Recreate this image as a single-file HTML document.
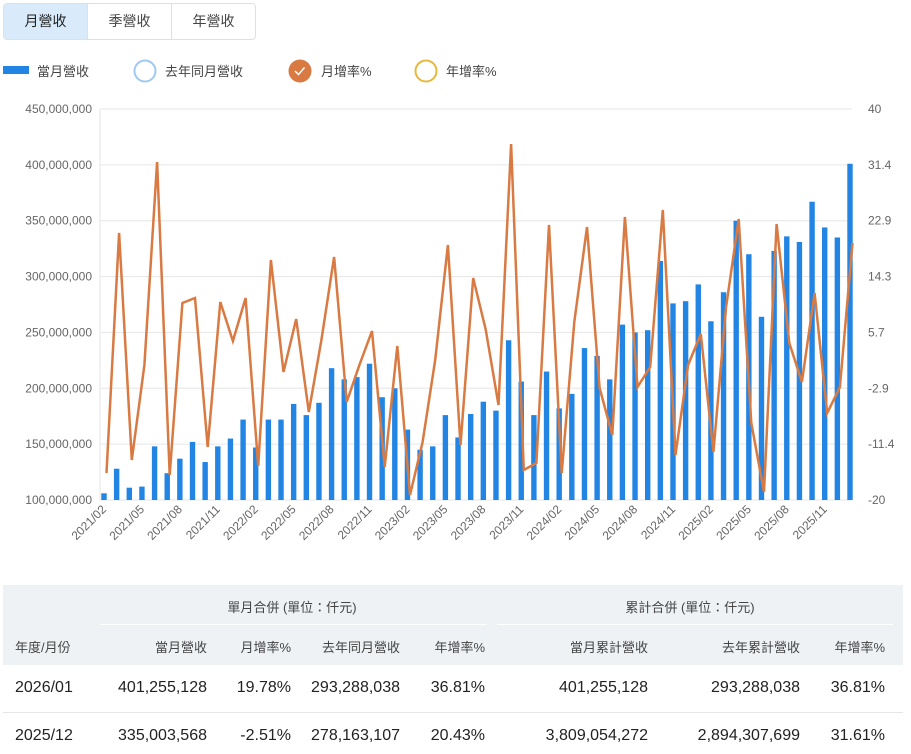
<!DOCTYPE html>
<html><head><meta charset="utf-8">
<style>
body{margin:0;width:911px;height:754px;background:#fff;font-family:"Liberation Sans","Noto Sans CJK TC",sans-serif;overflow:hidden;position:relative;color:#333}
.tabs{position:absolute;left:3px;top:3px;width:251px;height:35px;border:1px solid #dde1e6;border-radius:4px;display:flex;overflow:hidden}
.tabs div{flex:1;text-align:center;line-height:35px;font-size:14px;color:#444;border-left:1px solid #dde1e6}
.tabs div:first-child{border-left:none;background:#d9ebfb;color:#222}
.t{position:absolute;white-space:nowrap}
</style></head><body>
<div class="tabs"><div>月營收</div><div>季營收</div><div>年營收</div></div>
<svg width="911" height="580" style="position:absolute;left:0;top:0" font-family="Liberation Sans,Noto Sans CJK TC,sans-serif">
<rect x="3" y="66" width="26" height="8" fill="#2285e4"/>
<text x="37" y="76" font-size="13" fill="#444">當月營收</text>
<circle cx="145" cy="71" r="10.5" fill="none" stroke="#9ec9f2" stroke-width="2"/>
<text x="165" y="76" font-size="13" fill="#444">去年同月營收</text>
<circle cx="300" cy="71" r="11.5" fill="#d97a43"/>
<path d="M295 71 l3.5 3.5 l6 -7" stroke="#fff" stroke-width="1.5" fill="none"/>
<text x="321" y="76" font-size="13" fill="#444">月增率%</text>
<circle cx="426" cy="71" r="10.5" fill="none" stroke="#e6b83c" stroke-width="2"/>
<text x="446" y="76" font-size="13" fill="#444">年增率%</text>
<g id="grid"></g>
<g id="bars"></g>
<polyline id="ln" fill="none" stroke="#d97a43" stroke-width="2.5" stroke-linejoin="miter"/>
<g id="lbl" font-size="12" fill="#666"></g>
</svg>
<div style="position:absolute;left:3px;top:585px;width:900px;height:80px;background:#eff2f5"></div>
<div style="position:absolute;left:100px;top:624px;width:387px;height:1px;background:#fff"></div>
<div style="position:absolute;left:497px;top:624px;width:396px;height:1px;background:#fff"></div>
<div style="position:absolute;left:3px;top:712px;width:900px;height:1px;background:#e3e6ea"></div>
<div id="tbl"></div>
<script>
var NS="http://www.w3.org/2000/svg";
function el(p,t,a,txt){var e=document.createElementNS(NS,t);for(var k in a)e.setAttribute(k,a[k]);if(txt!=null)e.textContent=txt;document.getElementById(p).appendChild(e);return e;}
var L=["450,000,000","400,000,000","350,000,000","300,000,000","250,000,000","200,000,000","150,000,000","100,000,000"];
var R=["40","31.4","22.9","14.3","5.7","-2.9","-11.4","-20"];
for(var i=0;i<8;i++){var y=109+i*391/7;
el("grid","line",{x1:100,x2:852,y1:y,y2:y,stroke:"#e6e6e6","stroke-width":1});
el("lbl","text",{x:92,y:y+4,"text-anchor":"end"},L[i]);
el("lbl","text",{x:868,y:y+4},R[i]);}
el("grid","line",{x1:100,x2:100,y1:109,y2:500,stroke:"#e6e6e6"});
var v=[106,128,111,112,148,124,137,152,134,148,155,172,147,172,172,186,176,187,218,208,210,222,192,200,163,145,148,176,156,177,188,180,243,206,176,215,182,195,236,229,208,257,250,252,314,276,278,293,260,286,350,320,264,323,336,331,367,344,335,401];
var ly=[473,233,460,365,162,475,303,298,447,302,341,298,466,260,372,319,412,340,257,402,365,331,467,346,495,442,360,245,445,278,330,405,144,470,463,225,473,322,227,388,435,217,387,367,210,455,365,334,452,307,219,423,492,224,343,382,293,413,387,243];
var pts=[];
for(var i=0;i<60;i++){var x=104+i*12.644;var y=500-(v[i]-100)*1.1171;
el("bars","rect",{x:x-2.7,y:y,width:5.4,height:500-y,fill:"#2285e4"});
pts.push((x+2.5).toFixed(1)+","+ly[i]);
if(i%3==0){var m=(i+1)%12+1;var yr=2021+Math.floor((i+1)/12);
var s=yr+"/"+(m<10?"0":"")+m;
el("lbl","text",{x:x+3,y:510,"text-anchor":"end",transform:"rotate(-45 "+(x+3)+" 510)"},s);}}
document.getElementById("ln").setAttribute("points",pts.join(" "));
var T=document.getElementById("tbl");
function t(x,y,s,fs,al,c){var d=document.createElement("div");d.className="t";d.textContent=s;d.style.top=y+"px";d.style.fontSize=fs+"px";d.style.color=c||"#333";
if(al=="r"){d.style.right=(911-x)+"px";}else if(al=="c"){d.style.left=(x-150)+"px";d.style.width="300px";d.style.textAlign="center";}else d.style.left=x+"px";T.appendChild(d);}
t(292,597,"單月合併 (單位：仟元)",13,"c","#444");
t(690,597,"累計合併 (單位：仟元)",13,"c","#444");
t(15,637,"年度/月份",13,"l","#444");
var H=["當月營收","月增率%","去年同月營收","年增率%","當月累計營收","去年累計營收","年增率%"];
var X=[207,291,400,485,648,800,885];
for(var i=0;i<7;i++)t(X[i],637,H[i],13,"r","#444");
var r1=["401,255,128","19.78%","293,288,038","36.81%","401,255,128","293,288,038","36.81%"];
var r2=["335,003,568","-2.51%","278,163,107","20.43%","3,809,054,272","2,894,307,699","31.61%"];
t(15,679,"2026/01",16,"l","#222");t(15,727,"2025/12",16,"l","#222");
for(var i=0;i<7;i++){t(X[i],679,r1[i],16,"r","#222");t(X[i],727,r2[i],16,"r","#222");}
</script>
</body></html>
